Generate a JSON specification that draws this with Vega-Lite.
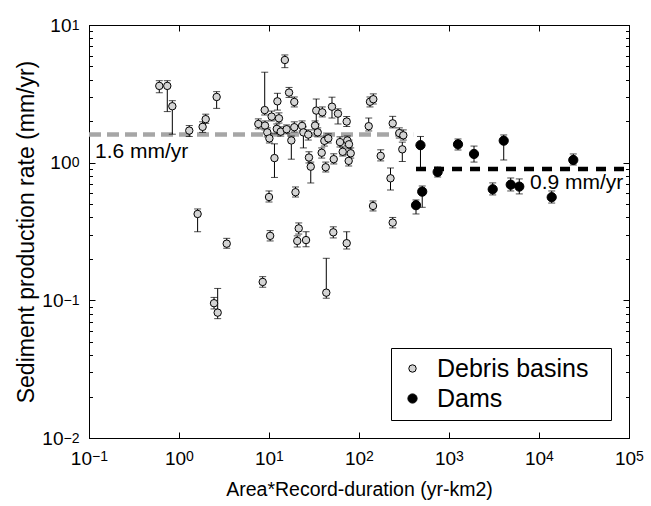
{
  "$schema": "https://vega.github.io/schema/vega-lite/v6.json",
  "width": 540,
  "height": 413,
  "autosize": {"type": "none"},
  "padding": {"left": 89, "top": 25, "right": 22, "bottom": 68},
  "background": "white",
  "config": {
    "view": {"stroke": "black", "strokeWidth": 1},
    "axis": {
      "labelFont": "Liberation Sans", "titleFont": "Liberation Sans",
      "labelColor": "black", "titleColor": "black", "tickColor": "black",
      "domainColor": "black", "grid": false, "titleFontWeight": "normal",
      "labelFlush": false, "labelOverlap": false, "labelBound": false, "tickWidth": 1, "domainWidth": 1
    },
    "legend": {
      "labelFont": "Liberation Sans", "labelFontSize": 25, "labelColor": "black", "labelLimit": 400,
      "strokeColor": "black", "fillColor": "white", "padding": 8, "rowPadding": 4,
      "symbolStrokeColor": "black", "symbolStrokeWidth": 1
    },
    "text": {"font": "Liberation Sans"}
  },
  "datasets": {
    "pts": [
      {"x":0.604,"y":3.61,"lo":3.22,"hi":3.94,"type":"Debris basins"},
      {"x":0.741,"y":3.61,"lo":2.35,"hi":3.94,"type":"Debris basins"},
      {"x":0.843,"y":2.57,"lo":1.61,"hi":2.82,"type":"Debris basins"},
      {"x":1.30,"y":1.71,"lo":1.55,"hi":1.86,"type":"Debris basins"},
      {"x":1.83,"y":1.82,"lo":1.66,"hi":1.98,"type":"Debris basins"},
      {"x":1.98,"y":2.07,"lo":1.93,"hi":2.25,"type":"Debris basins"},
      {"x":2.62,"y":3.00,"lo":2.48,"hi":3.28,"type":"Debris basins"},
      {"x":1.61,"y":0.424,"lo":0.315,"hi":0.461,"type":"Debris basins"},
      {"x":3.39,"y":0.258,"lo":0.239,"hi":0.282,"type":"Debris basins"},
      {"x":2.45,"y":0.0953,"lo":0.0866,"hi":0.105,"type":"Debris basins"},
      {"x":2.69,"y":0.0814,"lo":0.0736,"hi":0.122,"type":"Debris basins"},
      {"x":7.61,"y":1.91,"lo":1.76,"hi":2.08,"type":"Debris basins"},
      {"x":8.96,"y":2.41,"lo":2.22,"hi":4.54,"type":"Debris basins"},
      {"x":9.03,"y":1.86,"lo":1.73,"hi":2.01,"type":"Debris basins"},
      {"x":9.57,"y":1.66,"lo":1.54,"hi":1.79,"type":"Debris basins"},
      {"x":10.1,"y":1.50,"lo":1.39,"hi":1.62,"type":"Debris basins"},
      {"x":10.7,"y":2.16,"lo":2.01,"hi":2.37,"type":"Debris basins"},
      {"x":11.5,"y":1.08,"lo":0.781,"hi":1.37,"type":"Debris basins"},
      {"x":12.2,"y":1.76,"lo":1.62,"hi":1.91,"type":"Debris basins"},
      {"x":12.4,"y":2.79,"lo":2.41,"hi":3.19,"type":"Debris basins"},
      {"x":12.9,"y":2.10,"lo":1.94,"hi":2.30,"type":"Debris basins"},
      {"x":13.5,"y":1.68,"lo":1.56,"hi":1.82,"type":"Debris basins"},
      {"x":15.0,"y":5.57,"lo":4.90,"hi":6.06,"type":"Debris basins"},
      {"x":15.7,"y":1.75,"lo":1.62,"hi":1.88,"type":"Debris basins"},
      {"x":16.7,"y":3.23,"lo":2.98,"hi":3.52,"type":"Debris basins"},
      {"x":17.7,"y":1.45,"lo":1.06,"hi":1.56,"type":"Debris basins"},
      {"x":19.1,"y":2.76,"lo":2.54,"hi":3.00,"type":"Debris basins"},
      {"x":19.1,"y":1.81,"lo":1.67,"hi":1.98,"type":"Debris basins"},
      {"x":23.3,"y":1.85,"lo":1.70,"hi":2.01,"type":"Debris basins"},
      {"x":24.1,"y":1.66,"lo":1.28,"hi":1.82,"type":"Debris basins"},
      {"x":27.3,"y":1.60,"lo":1.46,"hi":1.73,"type":"Debris basins"},
      {"x":32.5,"y":1.86,"lo":1.73,"hi":2.01,"type":"Debris basins"},
      {"x":33.5,"y":2.39,"lo":1.91,"hi":2.90,"type":"Debris basins"},
      {"x":34.8,"y":1.66,"lo":1.54,"hi":1.79,"type":"Debris basins"},
      {"x":39.1,"y":2.32,"lo":2.15,"hi":2.54,"type":"Debris basins"},
      {"x":41.2,"y":1.44,"lo":1.32,"hi":1.56,"type":"Debris basins"},
      {"x":45.6,"y":1.50,"lo":1.39,"hi":1.62,"type":"Debris basins"},
      {"x":50.1,"y":2.55,"lo":2.11,"hi":2.99,"type":"Debris basins"},
      {"x":58.4,"y":2.27,"lo":1.91,"hi":2.46,"type":"Debris basins"},
      {"x":61.5,"y":1.41,"lo":1.30,"hi":1.54,"type":"Debris basins"},
      {"x":65.9,"y":1.20,"lo":1.12,"hi":1.30,"type":"Debris basins"},
      {"x":73.0,"y":1.99,"lo":1.83,"hi":2.16,"type":"Debris basins"},
      {"x":74.1,"y":1.45,"lo":1.34,"hi":1.56,"type":"Debris basins"},
      {"x":77.4,"y":1.36,"lo":1.26,"hi":1.46,"type":"Debris basins"},
      {"x":80.9,"y":1.17,"lo":1.08,"hi":1.28,"type":"Debris basins"},
      {"x":76.8,"y":1.03,"lo":0.946,"hi":1.14,"type":"Debris basins"},
      {"x":38.5,"y":1.18,"lo":1.08,"hi":1.28,"type":"Debris basins"},
      {"x":27.8,"y":1.09,"lo":0.995,"hi":1.20,"type":"Debris basins"},
      {"x":29.1,"y":0.935,"lo":0.712,"hi":1.01,"type":"Debris basins"},
      {"x":42.7,"y":0.926,"lo":0.856,"hi":1.01,"type":"Debris basins"},
      {"x":52.4,"y":1.06,"lo":0.979,"hi":1.16,"type":"Debris basins"},
      {"x":10.0,"y":0.563,"lo":0.518,"hi":0.623,"type":"Debris basins"},
      {"x":19.7,"y":0.610,"lo":0.563,"hi":0.666,"type":"Debris basins"},
      {"x":10.3,"y":0.294,"lo":0.270,"hi":0.321,"type":"Debris basins"},
      {"x":21.4,"y":0.333,"lo":0.303,"hi":0.365,"type":"Debris basins"},
      {"x":20.6,"y":0.270,"lo":0.244,"hi":0.294,"type":"Debris basins"},
      {"x":25.8,"y":0.274,"lo":0.245,"hi":0.315,"type":"Debris basins"},
      {"x":51.8,"y":0.312,"lo":0.284,"hi":0.342,"type":"Debris basins"},
      {"x":8.51,"y":0.136,"lo":0.1245,"hi":0.1486,"type":"Debris basins"},
      {"x":43.3,"y":0.1137,"lo":0.1036,"hi":0.202,"type":"Debris basins"},
      {"x":73.0,"y":0.260,"lo":0.236,"hi":0.315,"type":"Debris basins"},
      {"x":132.5,"y":2.77,"lo":2.54,"hi":3.00,"type":"Debris basins"},
      {"x":144.2,"y":2.89,"lo":2.67,"hi":3.16,"type":"Debris basins"},
      {"x":128.2,"y":1.84,"lo":1.70,"hi":2.11,"type":"Debris basins"},
      {"x":174.2,"y":1.12,"lo":1.03,"hi":1.24,"type":"Debris basins"},
      {"x":223.9,"y":0.770,"lo":0.633,"hi":0.915,"type":"Debris basins"},
      {"x":143.1,"y":0.485,"lo":0.446,"hi":0.527,"type":"Debris basins"},
      {"x":236.8,"y":1.93,"lo":1.79,"hi":2.17,"type":"Debris basins"},
      {"x":280.4,"y":1.64,"lo":1.51,"hi":1.79,"type":"Debris basins"},
      {"x":310.7,"y":1.58,"lo":1.46,"hi":1.73,"type":"Debris basins"},
      {"x":302.8,"y":1.25,"lo":1.02,"hi":1.41,"type":"Debris basins"},
      {"x":236.8,"y":0.367,"lo":0.336,"hi":0.400,"type":"Debris basins"},
      {"x":482,"y":1.34,"lo":0.908,"hi":1.55,"type":"Dams"},
      {"x":748,"y":0.856,"lo":0.787,"hi":0.931,"type":"Dams"},
      {"x":504,"y":0.616,"lo":0.474,"hi":0.677,"type":"Dams"},
      {"x":430,"y":0.491,"lo":0.424,"hi":0.536,"type":"Dams"},
      {"x":1259,"y":1.36,"lo":1.236,"hi":1.486,"type":"Dams"},
      {"x":1896,"y":1.157,"lo":1.01,"hi":1.32,"type":"Dams"},
      {"x":4055,"y":1.445,"lo":1.046,"hi":1.59,"type":"Dams"},
      {"x":3060,"y":0.641,"lo":0.583,"hi":0.713,"type":"Dams"},
      {"x":4850,"y":0.692,"lo":0.623,"hi":0.774,"type":"Dams"},
      {"x":6040,"y":0.67,"lo":0.593,"hi":0.762,"type":"Dams"},
      {"x":13840,"y":0.561,"lo":0.509,"hi":0.623,"type":"Dams"},
      {"x":24040,"y":1.046,"lo":0.962,"hi":1.157,"type":"Dams"}
    ],
    "grayline": [{"x":0.1,"y":1.6},{"x":400,"y":1.6}],
    "blackline": [{"x":430,"y":0.9},{"x":100000,"y":0.9}],
    "notes": [
      {"x":0.1166,"y":1.196,"text":"1.6 mm/yr"},
      {"x":7943,"y":0.712,"text":"0.9 mm/yr"}
    ]
  },
  "resolve": {"axis": {"x": "independent", "y": "independent"}},
  "layer": [
    {
      "data": {"name": "grayline"},
      "mark": {"type": "line", "color": "#a6a6a6", "strokeWidth": 4.5, "strokeDash": [12, 6]},
      "encoding": {
        "x": {"field": "x", "type": "quantitative",
          "scale": {"type": "log", "domain": [0.1, 100000], "nice": false},
          "axis": {"orient": "bottom", "values": [0.1, 1, 10, 100, 1000, 10000, 100000],
            "labelExpr": "'10'", "tickSize": -6, "domain": true,
            "labelFontSize": 19, "labelAlign": "right", "labelBaseline": "top",
            "labelOffset": {"condition": {"test": "datum.value < 1", "value": 2.5}, "value": 6.6},
            "labelPadding": 17,
            "title": "Area*Record-duration (yr-km2)", "titleFontSize": 19.5, "titlePadding": 12}},
        "y": {"field": "y", "type": "quantitative",
          "scale": {"type": "log", "domain": [0.01, 10], "nice": false},
          "axis": {"orient": "left", "values": [0.01, 0.1, 1, 10],
            "labelExpr": "'10'", "tickSize": -6, "domain": true,
            "labelFontSize": 19, "labelAlign": "right", "labelBaseline": "middle", "labelDy": -3,
            "labelPadding": {"condition": {"test": "datum.value < 1", "value": 32}, "value": 24},
            "title": "Sediment production rate (mm/yr)", "titleFontSize": 23, "titlePadding": 3}}
      }
    },
    {
      "data": {"name": "blackline"},
      "mark": {"type": "line", "color": "black", "strokeWidth": 4.5, "strokeDash": [10, 8]},
      "encoding": {
        "x": {"field": "x", "type": "quantitative",
          "scale": {"type": "log", "domain": [0.1, 100000], "nice": false},
          "axis": {"orient": "bottom", "values": [0.1, 1, 10, 100, 1000, 10000, 100000],
            "labelExpr": "format(round(log(datum.value)/LN10), 'd')", "ticks": false, "domain": false,
            "labelFontSize": 14, "labelAlign": "left", "labelBaseline": "top", "labelDy": -5,
            "labelOffset": {"condition": {"test": "datum.value < 1", "value": 2.5}, "value": 6.6},
            "labelPadding": 11, "title": null}},
        "y": {"field": "y", "type": "quantitative",
          "scale": {"type": "log", "domain": [0.01, 10], "nice": false},
          "axis": {"orient": "left", "values": [0.01, 0.1, 1, 10],
            "labelExpr": "format(round(log(datum.value)/LN10), 'd')", "ticks": false, "domain": false,
            "labelFontSize": 14, "labelAlign": "right", "labelBaseline": "middle", "labelDy": -10,
            "labelPadding": 10, "title": null}}
      }
    },
    {
      "data": {"name": "pts"},
      "mark": {"type": "rule", "color": "black", "strokeWidth": 1},
      "encoding": {
        "x": {"field": "x", "type": "quantitative",
          "scale": {"type": "log", "domain": [0.1, 100000], "nice": false},
          "axis": {"orient": "top", "values": [0.1, 1, 10, 100, 1000, 10000, 100000],
            "labels": false, "tickSize": -6, "domain": true, "title": null}},
        "y": {"field": "lo", "type": "quantitative",
          "scale": {"type": "log", "domain": [0.01, 10], "nice": false},
          "axis": {"orient": "left", "values": [0.02,0.03,0.04,0.05,0.06,0.07,0.08,0.09,0.2,0.3,0.4,0.5,0.6,0.7,0.8,0.9,2,3,4,5,6,7,8,9],
            "labels": false, "tickSize": -3.5, "domain": false, "title": null}},
        "y2": {"field": "hi"}
      }
    },
    {
      "data": {"name": "pts"},
      "mark": {"type": "tick", "orient": "horizontal", "color": "black", "size": 7, "thickness": 1},
      "encoding": {
        "x": {"field": "x", "type": "quantitative",
          "scale": {"type": "log", "domain": [0.1, 100000], "nice": false}, "axis": null},
        "y": {"field": "lo", "type": "quantitative",
          "scale": {"type": "log", "domain": [0.01, 10], "nice": false},
          "axis": {"orient": "right", "values": [0.01, 0.1, 1, 10],
            "labels": false, "tickSize": -6, "domain": true, "title": null}}
      }
    },
    {
      "data": {"name": "pts"},
      "mark": {"type": "tick", "orient": "horizontal", "color": "black", "size": 7, "thickness": 1},
      "encoding": {
        "x": {"field": "x", "type": "quantitative",
          "scale": {"type": "log", "domain": [0.1, 100000], "nice": false}, "axis": null},
        "y": {"field": "hi", "type": "quantitative",
          "scale": {"type": "log", "domain": [0.01, 10], "nice": false},
          "axis": {"orient": "right", "values": [0.02,0.03,0.04,0.05,0.06,0.07,0.08,0.09,0.2,0.3,0.4,0.5,0.6,0.7,0.8,0.9,2,3,4,5,6,7,8,9],
            "labels": false, "tickSize": -3.5, "domain": false, "title": null}}
      }
    },
    {
      "data": {"name": "pts"},
      "mark": {"type": "point", "shape": "circle", "filled": true, "stroke": "black", "strokeWidth": 1, "opacity": 1},
      "encoding": {
        "x": {"field": "x", "type": "quantitative",
          "scale": {"type": "log", "domain": [0.1, 100000], "nice": false}, "axis": null},
        "y": {"field": "y", "type": "quantitative",
          "scale": {"type": "log", "domain": [0.01, 10], "nice": false}, "axis": null},
        "color": {"field": "type", "type": "nominal",
          "scale": {"domain": ["Debris basins", "Dams"], "range": ["#d4d4d4", "#000000"]},
          "legend": {"orient": "bottom-right", "offset": 18, "title": null,
            "symbolOffset": 1, "labelOffset": 12, "labelLimit": 400,
            "labelExpr": "datum.label + '\u00a0\u00a0\u200b'",
            "symbolStrokeColor": "black"}},
        "size": {"field": "type", "type": "nominal",
          "scale": {"domain": ["Debris basins", "Dams"], "range": [55, 85]},
          "legend": {"orient": "bottom-right", "offset": 18, "title": null,
            "symbolOffset": 1, "labelOffset": 12, "labelLimit": 400,
            "labelExpr": "datum.label + '\u00a0\u00a0\u200b'"}}
      }
    },
    {
      "data": {"name": "notes"},
      "mark": {"type": "text", "align": "left", "baseline": "middle", "fontSize": 21, "color": "black", "font": "Liberation Sans"},
      "encoding": {
        "x": {"field": "x", "type": "quantitative",
          "scale": {"type": "log", "domain": [0.1, 100000], "nice": false}, "axis": null},
        "y": {"field": "y", "type": "quantitative",
          "scale": {"type": "log", "domain": [0.01, 10], "nice": false}, "axis": null},
        "text": {"field": "text"}
      }
    }
  ]
}
